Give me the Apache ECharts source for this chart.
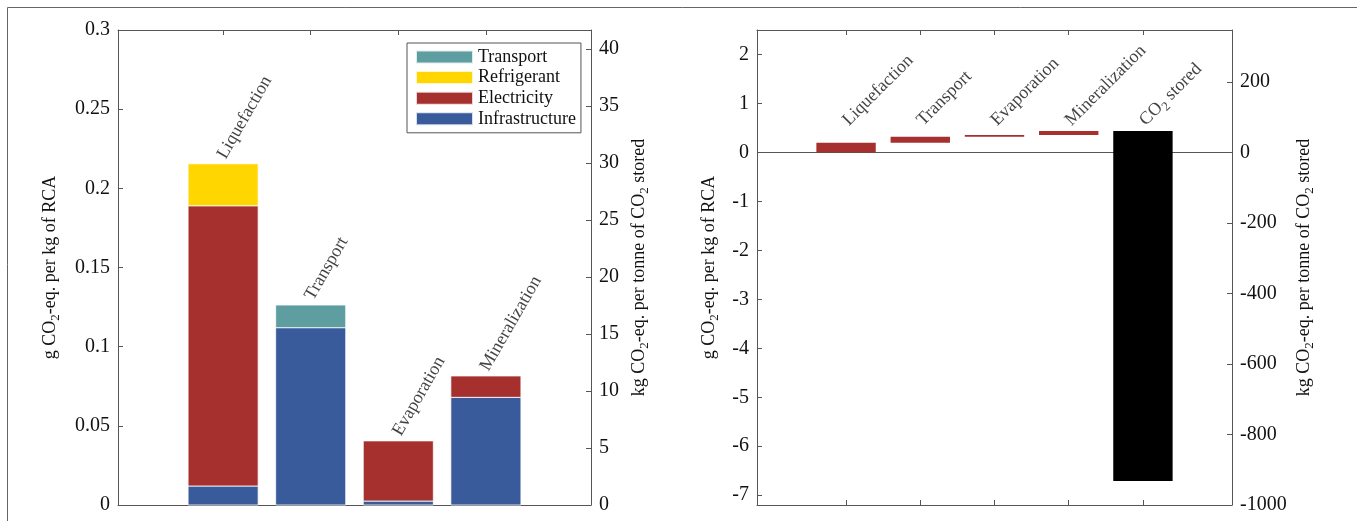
<!DOCTYPE html>
<html>
<head>
<meta charset="utf-8">
<script src="https://cdn.jsdelivr.net/npm/echarts@6/dist/echarts.min.js"></script>
<style>
  html, body { margin: 0; padding: 0; background: #fff; }
  #chart { width: 1357px; height: 521px; }
</style>
</head>
<body>
<div id="chart"></div>
<script>
// ---------- data (left chart: stacked contributions, g CO2-eq per kg RCA) ----------
const categoriesLeft = ['Liquefaction', 'Transport', 'Evaporation', 'Mineralization'];
const infrastructure = [0.012, 0.112, 0.0025, 0.068];
const electricity    = [0.177, null, 0.038, 0.0135];
const refrigerant    = [0.0265, null, null, null];
const transportEm    = [null, 0.0143, null, null];

// ---------- data (right chart: waterfall steps, g CO2-eq per kg RCA) ----------
const categoriesRight = ['Liquefaction', 'Transport', 'Evaporation', 'Mineralization', 'CO2 stored'];
const waterfallSteps  = [0.2, 0.12, 0.035, 0.08, -7.145];

// ---------- tick labels ----------
const ticksLeftG   = [0, 0.05, 0.1, 0.15, 0.2, 0.25, 0.3];
const ticksLeftKg  = [0, 5, 10, 15, 20, 25, 30, 35, 40];
const ticksRightG  = [-7, -6, -5, -4, -3, -2, -1, 0, 1, 2];
const ticksRightKg = [-1000, -800, -600, -400, -200, 0, 200];

// conversion between the two y scales (g/kg RCA -> kg/t CO2 stored)
const KG_PER_G = 1000 / 7.2;

const FONT = 'Liberation Serif';
const AX = '#555';
const TXT = '#111';
const C_INFRA = '#3A5B9B', C_ELEC = '#A5302D', C_REFR = '#FFD600', C_TRAN = '#5F9EA0';
const BAR_W = 0.8; // bar width in x-axis units

const subRich = {
  sub: { fontSize: 13, fontFamily: FONT, color: TXT, verticalAlign: 'bottom', lineHeight: 12 }
};
function subText(s) { return s.replace(/CO2/g, 'CO{sub|2}'); }

function xAx(grid, pos, max, ticks) {
  return {
    type: 'value', gridIndex: grid, position: pos, min: -0.2, max: max,
    axisLine: { show: true, onZero: false, lineStyle: { color: AX, width: 1 } },
    axisTick: { show: true, inside: true, length: 5, customValues: ticks, lineStyle: { color: AX } },
    axisLabel: { show: false }, splitLine: { show: false }
  };
}
function yAx(grid, pos, min, max, ticks, name, gap) {
  return {
    type: 'value', gridIndex: grid, position: pos, min: min, max: max,
    axisLine: { show: true, onZero: false, lineStyle: { color: AX, width: 1 } },
    axisTick: { show: true, inside: true, length: 5, customValues: ticks, lineStyle: { color: AX } },
    axisLabel: { show: true, customValues: ticks, margin: 8, fontSize: 20, fontFamily: FONT, color: TXT,
                 formatter: v => String(v) },
    splitLine: { show: false },
    name: subText(name), nameLocation: 'middle', nameRotate: 90, nameGap: gap,
    nameTextStyle: { fontSize: 18, fontFamily: FONT, color: TXT, lineHeight: 24, rich: subRich }
  };
}

// floating rectangle drawn through the axes' own scales
function renderRect(params, api) {
  const x = api.value(0), lo = api.value(1), hi = api.value(2);
  const p0 = api.coord([x, lo]);
  const p1 = api.coord([x, hi]);
  const w = api.size([BAR_W, 0])[0];
  return {
    type: 'rect',
    shape: { x: p0[0] - w / 2, y: Math.min(p0[1], p1[1]), width: w, height: Math.abs(p0[1] - p1[1]) },
    style: api.style()
  };
}

// stacked segments for the left chart: [x, low, high]
const stackOrder = [infrastructure, electricity, refrigerant, transportEm];
function segments(idx) {
  const out = [];
  categoriesLeft.forEach((c, i) => {
    const v = stackOrder[idx][i];
    if (v == null) return;
    let lo = 0;
    for (let k = 0; k < idx; k++) lo += stackOrder[k][i] || 0;
    out.push([i + 1, lo, lo + v]);
  });
  return out;
}
const totalsLeft = categoriesLeft.map((c, i) => stackOrder.reduce((s, a) => s + (a[i] || 0), 0));

const bases = waterfallSteps.map((v, i) => waterfallSteps.slice(0, i).reduce((s, x) => s + x, 0));

const barBorder = { borderColor: 'rgba(255,255,255,0.8)', borderWidth: 1 };
function leftSeries(name, idx, color) {
  return {
    name: name, type: 'custom', xAxisIndex: 0, yAxisIndex: 0, renderItem: renderRect,
    encode: { x: 0, y: [1, 2] },
    itemStyle: Object.assign({ color: color }, barBorder),
    data: segments(idx)
  };
}

const option = {
  animation: false,
  backgroundColor: '#fff',
  grid: [
    { left: 118, top: 30, width: 473, height: 475 },
    { left: 757, top: 30, width: 475, height: 475 }
  ],
  xAxis: [
    xAx(0, 'bottom', 5.2, [1, 2, 3, 4]),
    xAx(0, 'top', 5.2, [1, 2, 3, 4]),
    xAx(1, 'bottom', 6.2, [1, 2, 3, 4, 5]),
    xAx(1, 'top', 6.2, [1, 2, 3, 4, 5])
  ],
  yAxis: [
    yAx(0, 'left', 0, 0.3, ticksLeftG, 'g CO2-eq. per kg of RCA', 56),
    yAx(0, 'right', 0, 0.3 * KG_PER_G, ticksLeftKg, 'kg CO2-eq. per tonne of CO2 stored', 36),
    yAx(1, 'left', -7.2, 2.5, ticksRightG, 'g CO2-eq. per kg of RCA', 36),
    yAx(1, 'right', -7.2 * KG_PER_G, 2.5 * KG_PER_G, ticksRightKg, 'kg CO2-eq. per tonne of CO2 stored', 60)
  ],
  legend: {
    data: ['Transport', 'Refrigerant', 'Electricity', 'Infrastructure'],
    orient: 'vertical', left: 407, top: 43,
    itemWidth: 57, itemHeight: 13, itemGap: 2.6,
    padding: [5, 5, 5, 8],
    borderColor: AX, borderWidth: 1, backgroundColor: '#fff',
    icon: 'rect',
    textStyle: { fontSize: 18, fontFamily: FONT, color: TXT, lineHeight: 13 }
  },
  graphic: [{
    type: 'rect', silent: true,
    shape: { x: 7.5, y: 7.5, width: 1400, height: 600 },
    style: { fill: 'none', stroke: '#666', lineWidth: 1 }
  }],
  series: [
    leftSeries('Infrastructure', 0, C_INFRA),
    leftSeries('Electricity', 1, C_ELEC),
    leftSeries('Refrigerant', 2, C_REFR),
    leftSeries('Transport', 3, C_TRAN),
    { name: 'labelsLeft', type: 'scatter', xAxisIndex: 0, yAxisIndex: 0, symbolSize: 1,
      itemStyle: { color: 'rgba(0,0,0,0)' }, silent: true, z: 4,
      data: categoriesLeft.map((c, i) => ({ name: c, value: [i + 1, totalsLeft[i]] })),
      label: { show: true, formatter: p => p.name, position: [-1, -6], rotate: 60,
               align: 'left', verticalAlign: 'middle', fontSize: 18, fontFamily: FONT, color: TXT } },
    // right chart: zero line
    { name: 'zero', type: 'line', xAxisIndex: 2, yAxisIndex: 2, data: [], silent: true, z: 1,
      markLine: { silent: true, z: 1, symbol: ['none', 'none'], label: { show: false },
                  lineStyle: { color: AX, width: 1, type: 'solid' }, data: [{ yAxis: 0 }] } },
    // right chart: waterfall
    { name: 'step', type: 'custom', xAxisIndex: 2, yAxisIndex: 2, renderItem: renderRect, z: 3,
      encode: { x: 0, y: [1, 2] },
      data: waterfallSteps.map((v, i) => ({ value: [i + 1, bases[i], bases[i] + v],
        itemStyle: { color: v < 0 ? '#000' : C_ELEC } })) },
    { name: 'labelsRight', type: 'scatter', xAxisIndex: 2, yAxisIndex: 2, symbolSize: 1,
      itemStyle: { color: 'rgba(0,0,0,0)' }, silent: true, z: 4,
      data: categoriesRight.map((c, i) => ({ name: c, value: [i + 1, 0] })),
      label: { show: true, formatter: p => subText(p.name), position: [0, -29], rotate: 45,
               align: 'left', verticalAlign: 'middle', fontSize: 18, fontFamily: FONT, color: TXT,
               lineHeight: 24, rich: subRich } }
  ]
};

const chart = echarts.init(document.getElementById('chart'), null, { renderer: 'canvas' });
chart.setOption(option);
</script>
</body>
</html>
